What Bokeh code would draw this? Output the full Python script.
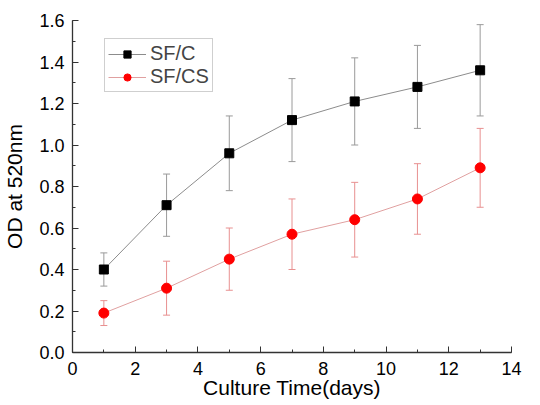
from bokeh.plotting import figure
from bokeh.models import (ColumnDataSource, Whisker, TeeHead, Legend, LegendItem, Range1d,
                          FixedTicker, CustomJSTickFormatter)
from bokeh.embed import file_html
from bokeh.resources import INLINE

days = [1, 3, 5, 7, 9, 11, 13]
sfc_mean = [0.40, 0.71, 0.96, 1.12, 1.21, 1.28, 1.36]
sfc_err = [0.08, 0.15, 0.18, 0.20, 0.21, 0.20, 0.22]
sfcs_mean = [0.19, 0.31, 0.45, 0.57, 0.64, 0.74, 0.89]
sfcs_err = [0.06, 0.13, 0.15, 0.17, 0.18, 0.17, 0.19]
x_ticks = [0, 2, 4, 6, 8, 10, 12, 14]
y_ticks = [0.0, 0.2, 0.4, 0.6, 0.8, 1.0, 1.2, 1.4, 1.6]

FONT = "Liberation Sans"

p = figure(width=532, height=404, output_backend="svg", toolbar_location=None,
           x_range=Range1d(0, 14), y_range=Range1d(0, 1.6),
           min_border_left=72, min_border_right=21, min_border_top=20, min_border_bottom=52)
p.outline_line_color = None
p.xgrid.visible = False
p.ygrid.visible = False

def mk_src(m, e):
    return ColumnDataSource(dict(x=days, y=m,
                                 lo=[a - b for a, b in zip(m, e)],
                                 hi=[a + b for a, b in zip(m, e)]))

s1 = mk_src(sfc_mean, sfc_err)
s2 = mk_src(sfcs_mean, sfcs_err)

for src, col in [(s1, "#9a9a9a"), (s2, "#e89090")]:
    w = Whisker(source=src, base="x", lower="lo", upper="hi", line_color=col, line_width=1,
                upper_head=TeeHead(size=7, line_color=col, line_width=1),
                lower_head=TeeHead(size=7, line_color=col, line_width=1))
    p.add_layout(w)

l1 = p.line("x", "y", source=s1, line_color="#8c8c8c", line_width=1)
m1 = p.scatter("x", "y", source=s1, marker="square", size=9, fill_color="black", line_color="black")
l2 = p.line("x", "y", source=s2, line_color="#e0a0a0", line_width=1)
m2 = p.scatter("x", "y", source=s2, marker="circle", size=10, fill_color="red", line_color="red")

legend = Legend(items=[LegendItem(label="SF/C", renderers=[l1, m1]),
                       LegendItem(label="SF/CS", renderers=[l2, m2])],
                location=(32, 260), margin=0,
                label_text_font=FONT, label_text_font_size="20px",
                label_text_line_height=0.9,
                border_line_color="#a0a0a0", border_line_width=1,
                padding=3, spacing=0, glyph_width=38, glyph_height=18,
                label_height=18, label_standoff=4)
p.add_layout(legend)

for ax in [p.xaxis[0], p.yaxis[0]]:
    ax.major_tick_in = 6
    ax.major_tick_out = 0
    ax.minor_tick_in = 3
    ax.minor_tick_out = 0
    ax.axis_line_color = "#333333"
    ax.major_tick_line_color = "#333333"
    ax.minor_tick_line_color = "#333333"
    ax.axis_line_width = 1.3
    ax.major_label_text_font = FONT
    ax.major_label_text_font_size = "18px"
    ax.major_label_text_color = "black"
    ax.axis_label_text_font = FONT
    ax.axis_label_text_font_size = "21px"
    ax.axis_label_text_font_style = "normal"
    ax.axis_label_text_color = "black"

p.xaxis.ticker = FixedTicker(ticks=x_ticks, minor_ticks=list(range(0, 15)))
p.yaxis.ticker = FixedTicker(ticks=y_ticks, minor_ticks=[i / 10 for i in range(17)])
p.yaxis.formatter = CustomJSTickFormatter(code="return tick.toFixed(1);")
p.yaxis.axis_label = "OD at 520nm"
p.xaxis.axis_label = "Culture Time(days)"
p.xaxis.major_label_standoff = 9
p.yaxis.major_label_standoff = 8
p.yaxis.axis_label_standoff = 10
p.xaxis.axis_label_standoff = -2

open("out.html", "w").write(file_html(p, INLINE))
